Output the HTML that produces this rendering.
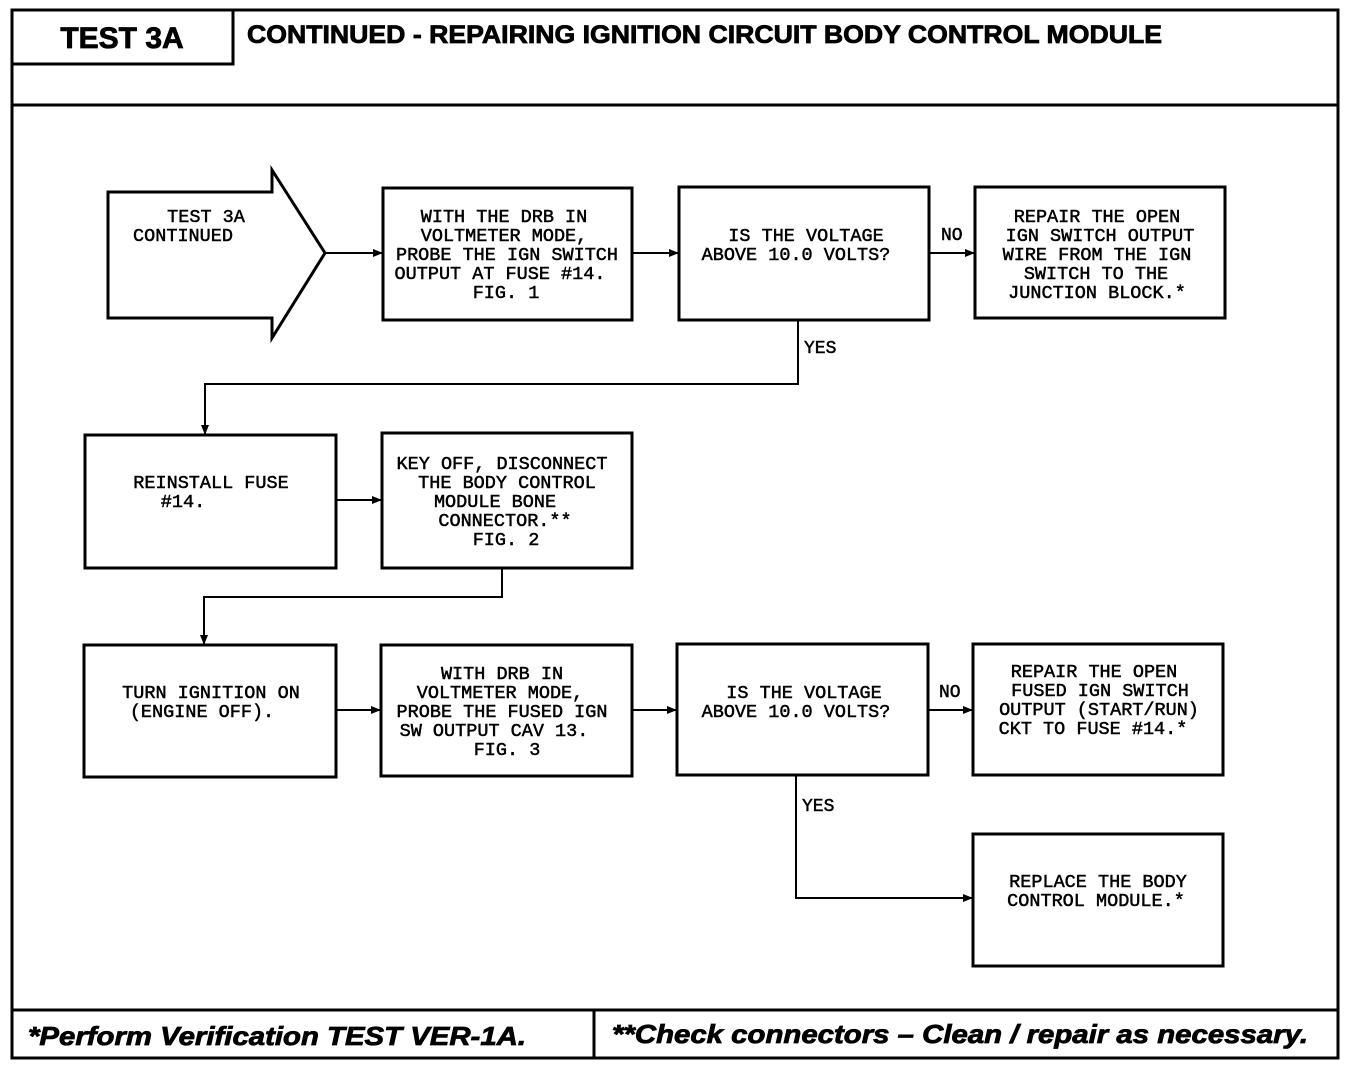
<!DOCTYPE html>
<html><head><meta charset="utf-8"><style>
html,body{margin:0;padding:0;background:#fff;}
svg{display:block}
.m{font-family:"Liberation Mono",monospace;font-size:18.5px;fill:#000;stroke:#000;stroke-width:0.5;text-anchor:middle}
.l{font-family:"Liberation Mono",monospace;font-size:18px;fill:#000;stroke:#000;stroke-width:0.5}
</style></head><body>
<svg width="1360" height="1066" viewBox="0 0 1360 1066" xmlns="http://www.w3.org/2000/svg">
<defs><marker id="a" markerWidth="10" markerHeight="8" refX="9" refY="4" orient="auto" markerUnits="userSpaceOnUse"><path d="M0,0 L10,4 L0,8 z" fill="#000"/></marker></defs>
<g fill="none" stroke="#000" stroke-width="3">
<rect x="12" y="10" width="1326" height="1048"/>
<line x1="12" y1="105" x2="1338" y2="105"/>
<polyline points="12,64 233,64 233,10"/>
<line x1="12" y1="1010" x2="1338" y2="1010"/>
<line x1="594" y1="1010" x2="594" y2="1058"/>
<polygon points="108,192 272,192 272,170 325,253 272,338 272,318 108,318"/>
<rect x="383" y="188" width="249" height="132"/>
<rect x="679" y="187" width="250" height="133"/>
<rect x="975" y="187" width="250" height="131"/>
<rect x="85" y="435" width="251" height="133"/>
<rect x="382" y="433" width="250" height="135"/>
<rect x="84" y="645" width="252" height="132"/>
<rect x="381" y="645" width="251" height="131"/>
<rect x="677" y="644" width="251" height="131"/>
<rect x="973" y="644" width="250" height="131"/>
<rect x="973" y="834" width="250" height="132"/>
</g>
<g fill="none" stroke="#000" stroke-width="2">
<line x1="325" y1="253" x2="382" y2="253" marker-end="url(#a)"/>
<line x1="632" y1="253" x2="678" y2="253" marker-end="url(#a)"/>
<line x1="929" y1="253" x2="974" y2="253" marker-end="url(#a)"/>
<polyline points="798,320 798,384 205,384 205,434" marker-end="url(#a)"/>
<line x1="336" y1="500" x2="381" y2="500" marker-end="url(#a)"/>
<polyline points="502,568 502,597 204,597 204,644" marker-end="url(#a)"/>
<line x1="336" y1="710" x2="380" y2="710" marker-end="url(#a)"/>
<line x1="632" y1="710" x2="676" y2="710" marker-end="url(#a)"/>
<line x1="928" y1="710" x2="972" y2="710" marker-end="url(#a)"/>
<polyline points="796,775 796,898 972,898" marker-end="url(#a)"/>
</g>
<text x="122" y="48" font-family="Liberation Sans,sans-serif" font-weight="bold" font-size="30" stroke="#000" stroke-width="0.8" text-anchor="middle">TEST 3A</text>
<text x="247" y="43" font-family="Liberation Sans,sans-serif" font-weight="bold" font-size="25" stroke="#000" stroke-width="0.8" textLength="915" lengthAdjust="spacingAndGlyphs">CONTINUED - REPAIRING IGNITION CIRCUIT BODY CONTROL MODULE</text>
<text x="28" y="1045" font-family="Liberation Sans,sans-serif" font-weight="bold" font-style="italic" font-size="26" stroke="#000" stroke-width="0.8" textLength="498" lengthAdjust="spacingAndGlyphs">*Perform Verification TEST VER-1A.</text>
<text x="612" y="1043" font-family="Liberation Sans,sans-serif" font-weight="bold" font-style="italic" font-size="26" stroke="#000" stroke-width="0.8" textLength="696" lengthAdjust="spacingAndGlyphs">**Check connectors – Clean / repair as necessary.</text>
<text class="m" x="206" y="222">TEST 3A</text>
<text class="m" x="183" y="241">CONTINUED</text>
<g class="m">
<text x="504" y="222">WITH THE DRB IN</text><text x="504" y="241">VOLTMETER MODE,</text><text x="507" y="260">PROBE THE IGN SWITCH</text><text x="500" y="279">OUTPUT AT FUSE #14.</text><text x="506" y="298">FIG. 1</text>
<text x="806" y="241">IS THE VOLTAGE</text><text x="796" y="260">ABOVE 10.0 VOLTS?</text>
<text x="1097" y="222">REPAIR THE OPEN</text><text x="1100" y="241">IGN SWITCH OUTPUT</text><text x="1097" y="260">WIRE FROM THE IGN</text><text x="1096" y="279">SWITCH TO THE</text><text x="1097" y="298">JUNCTION BLOCK.*</text>
<text x="211" y="488">REINSTALL FUSE</text><text x="183" y="507">#14.</text>
<text x="502" y="469">KEY OFF, DISCONNECT</text><text x="507" y="488">THE BODY CONTROL</text><text x="495" y="507">MODULE BONE</text><text x="505" y="526">CONNECTOR.**</text><text x="506" y="545">FIG. 2</text>
<text x="211" y="698">TURN IGNITION ON</text><text x="202" y="717">(ENGINE OFF).</text>
<text x="502" y="679">WITH DRB IN</text><text x="500" y="698">VOLTMETER MODE,</text><text x="502" y="717">PROBE THE FUSED IGN</text><text x="494" y="736">SW OUTPUT CAV 13.</text><text x="507" y="755">FIG. 3</text>
<text x="804" y="698">IS THE VOLTAGE</text><text x="796" y="717">ABOVE 10.0 VOLTS?</text>
<text x="1094" y="677">REPAIR THE OPEN</text><text x="1100" y="696">FUSED IGN SWITCH</text><text x="1099" y="715">OUTPUT (START/RUN)</text><text x="1093" y="734">CKT TO FUSE #14.*</text>
<text x="1098" y="887">REPLACE THE BODY</text><text x="1096" y="906">CONTROL MODULE.*</text>
</g>
<text class="l" x="941" y="240">NO</text>
<text class="l" x="804" y="353">YES</text>
<text class="l" x="939" y="697">NO</text>
<text class="l" x="802" y="811">YES</text>
</svg>
</body></html>
